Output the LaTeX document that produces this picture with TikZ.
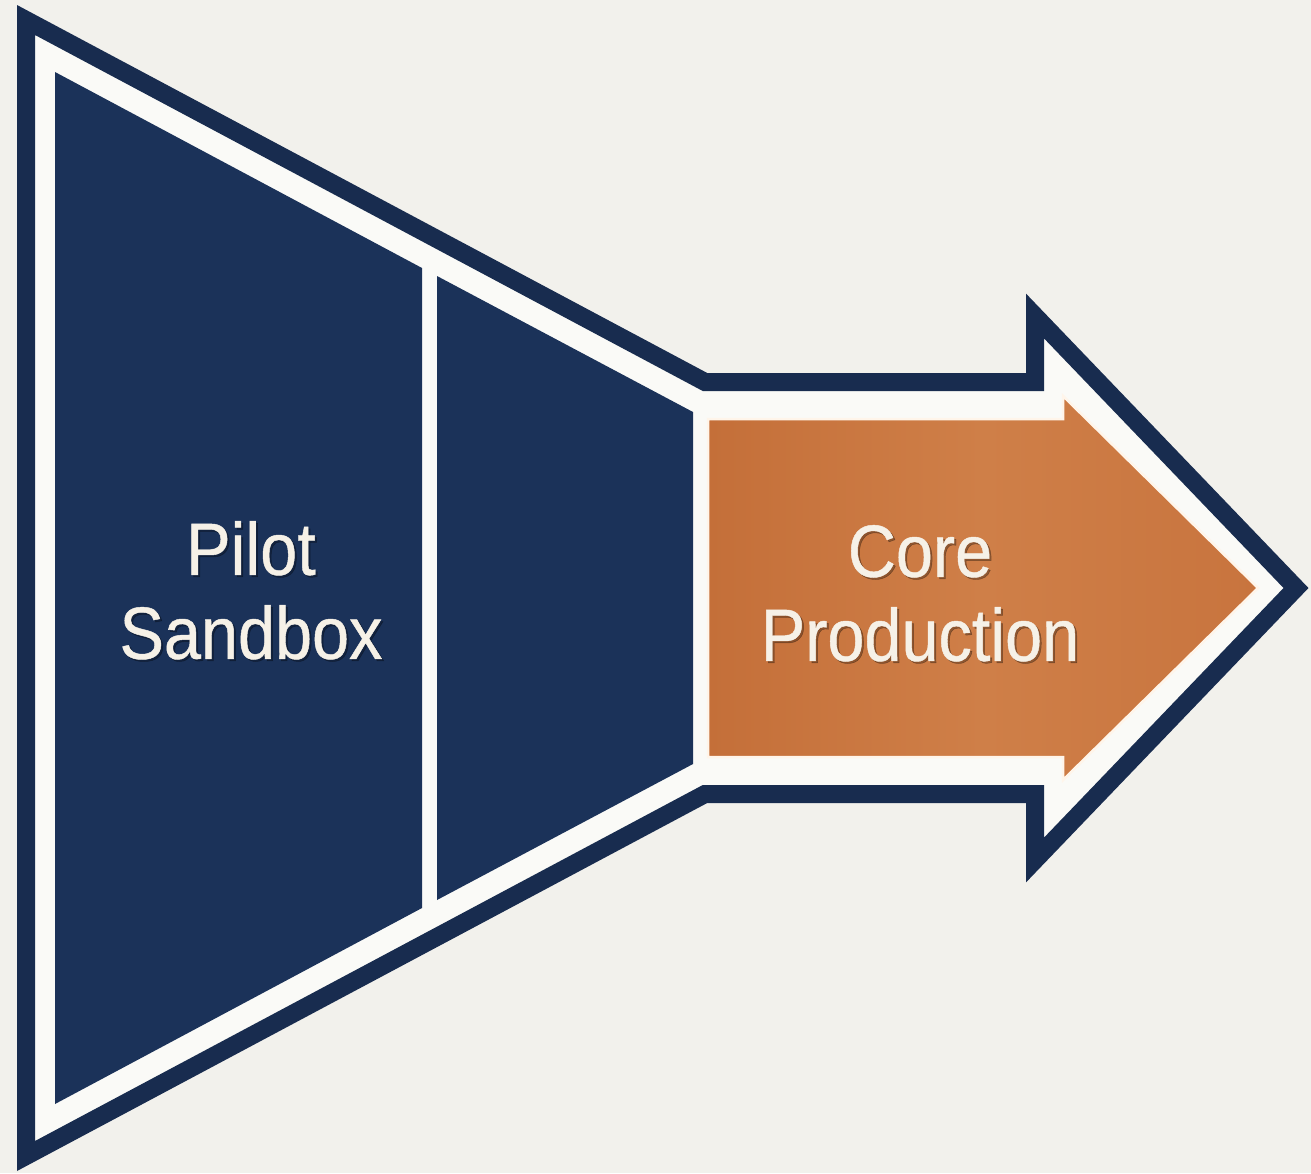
\documentclass[tikz,border=0pt]{standalone}
\usepackage{fontspec}
\newfontfamily\lblfont[FakeStretch=0.9,FakeBold=0.6]{Liberation Sans}
\definecolor{bg}{HTML}{F2F1EC}
\definecolor{gapwhite}{HTML}{FAFAF7}
\definecolor{navy}{HTML}{1B3259}
\definecolor{navyline}{HTML}{182C4F}
\definecolor{copperL}{HTML}{C46F39}
\definecolor{copperM}{HTML}{CF7F48}
\definecolor{copperR}{HTML}{C8743E}
\definecolor{cream}{HTML}{F6F1E7}
\definecolor{rim}{HTML}{FFF5EA}
\tikzset{
  outline/.style={fill=gapwhite, draw=navyline, line width=18pt, miter limit=10, line join=miter},
  panel/.style={fill=navy},
  copper/.style={left color=copperL, right color=copperR, middle color=copperM, draw=rim, line width=2.5pt},
  label/.style={font=\lblfont\fontsize{74}{84}\selectfont, text=cream, align=center, inner sep=0pt, text depth=0pt, anchor=south},
  labelshadow/.style={label, text=black, opacity=0.3}
}
\begin{document}
\begin{tikzpicture}[x=1pt,y=-1pt]
\fill[bg] (0,0) rectangle (1311,1173);
\useasboundingbox (0,0) rectangle (1311,1173);
% outer funnel + arrow outline
\path[outline] (26,20) -- (705,382) -- (1035,382) -- (1035,316) -- (1296,588) -- (1035,860) -- (1035,794) -- (705,794) -- (26,1156) -- cycle;
% navy panels
\fill[panel] (55,72) -- (422,268) -- (422,908) -- (55,1104) -- cycle;
\fill[panel] (437,276) -- (693,412) -- (693,764) -- (437,900) -- cycle;
% copper arrow
\shade[copper] (708,419) -- (1063,419) -- (1063,396) -- (1258,588) -- (1063,780) -- (1063,757) -- (708,757) -- cycle;
% labels
\node[labelshadow] (pilotshadow) at (253,661) {Pilot\\Sandbox};
\node[label] (pilot) at (251,659) {Pilot\\Sandbox};
\node[labelshadow] (coreshadow) at (922,663) {Core\\Production};
\node[label] (core) at (920,661) {Core\\Production};
\end{tikzpicture}
\end{document}
